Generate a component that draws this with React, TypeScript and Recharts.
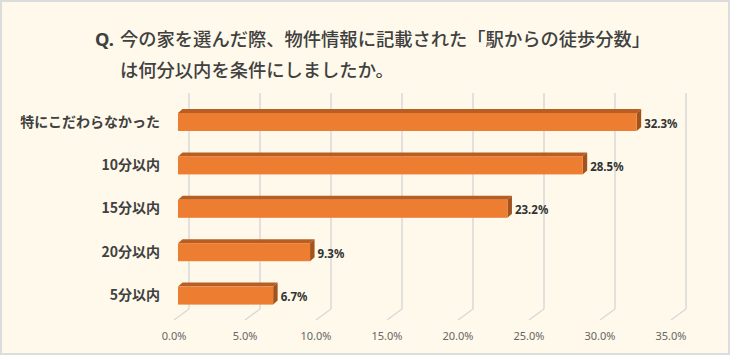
import { BarChart, Bar, XAxis, YAxis, CartesianGrid, LabelList } from 'recharts'

const categories = ['特にこだわらなかった', '10分以内', '15分以内', '20分以内', '5分以内']
const shares = [32.3, 28.5, 23.2, 9.3, 6.7]
const xTicks = [0, 5, 10, 15, 20, 25, 30, 35]
const titleLine1 = '今の家を選んだ際、物件情報に記載された「駅からの徒歩分数」'
const titleLine2 = 'は何分以内を条件にしましたか。'

const data = categories.map((name, i) => ({ name, value: shares[i] }))

const JP = '"Noto Sans CJK JP", "Noto Sans", sans-serif'
const SHIFT = 4 // bar front sits a little right of the floor tick
const DX = 4.5 // depth of the bar (3d look)
const DY = 4

function Bar3D(props: any) {
  const { x, y, width, height } = props
  const fx = x + SHIFT
  const r = fx + width
  return (
    <g>
      <polygon
        points={`${fx},${y} ${fx + DX},${y - DY} ${r + DX},${y - DY} ${r},${y}`}
        fill="#B85E22"
      />
      <polygon
        points={`${r},${y} ${r + DX},${y - DY} ${r + DX},${y + height - DY} ${r},${y + height}`}
        fill="#A4521C"
      />
      <rect x={fx} y={y} width={width} height={height} fill="#ED7D31" />
    </g>
  )
}

function GridLine(props: any) {
  const { x1, y1, y2, key } = props
  const bx = x1 + 15
  return (
    <g key={key}>
      <line x1={bx} y1={y1 - 7} x2={bx} y2={y2 - 8} stroke="#D9D9D9" strokeWidth={1.5} />
      <line x1={bx} y1={y2 - 8} x2={x1} y2={y2 + 3} stroke="#D9D9D9" strokeWidth={1.5} />
    </g>
  )
}

function ValueLabel(props: any) {
  const { x, y, width, height, value } = props
  return (
    <text
      x={x + width + SHIFT + DX + 3}
      y={y + height / 2 + 1}
      dominantBaseline="central"
      fontFamily='"Noto Sans", sans-serif'
      fontWeight={700}
      fontSize={11.5}
      fill="#333333"
    >
      {`${value.toFixed(1)}%`}
    </text>
  )
}

export default function App() {
  return (
    <div
      style={{
        position: 'absolute',
        left: 0,
        top: 0,
        width: 730,
        height: 355,
        background: '#FEF9EA',
        border: '2px solid #DCDCDC',
        boxSizing: 'border-box',
        overflow: 'hidden',
      }}
    >
      <div
        style={{
          position: 'absolute',
          left: 93,
          top: 21,
          fontFamily: JP,
          fontSize: 18.3,
          fontWeight: 500,
          color: '#404040',
          lineHeight: '31px',
          whiteSpace: 'nowrap',
        }}
      >
        <div>
          <span style={{ display: 'inline-block', width: 25, fontWeight: 700, fontFamily: '"Noto Sans", sans-serif' }}>Q.</span>
          {titleLine1}
        </div>
        <div style={{ paddingLeft: 25 }}>{titleLine2}</div>
      </div>
      <div style={{ position: 'absolute', left: -2, top: -2 }}>
        <BarChart
          width={730}
          height={355}
          data={data}
          layout="vertical"
          margin={{ top: 100, right: 59, bottom: 8, left: 0 }}
        >
          <CartesianGrid horizontal={false} vertical={GridLine} />
          <XAxis
            type="number"
            domain={[0, 35]}
            ticks={xTicks}
            tickFormatter={(v) => `${v.toFixed(1)}%`}
            axisLine={false}
            tickLine={false}
            tickSize={0}
            tickMargin={15}
            height={30}
            tick={{ fill: '#666666', fontSize: 11, fontFamily: '"Noto Sans", sans-serif' }}
          />
          <YAxis
            type="category"
            dataKey="name"
            width={174}
            axisLine={false}
            tickLine={false}
            tickSize={0}
            tickMargin={14}
            tick={{ fill: '#404040', fontSize: 14, fontWeight: 700, fontFamily: JP }}
          />
          <Bar dataKey="value" barSize={18} shape={Bar3D} isAnimationActive={false}>
            <LabelList dataKey="value" content={ValueLabel} />
          </Bar>
        </BarChart>
      </div>
    </div>
  )
}
